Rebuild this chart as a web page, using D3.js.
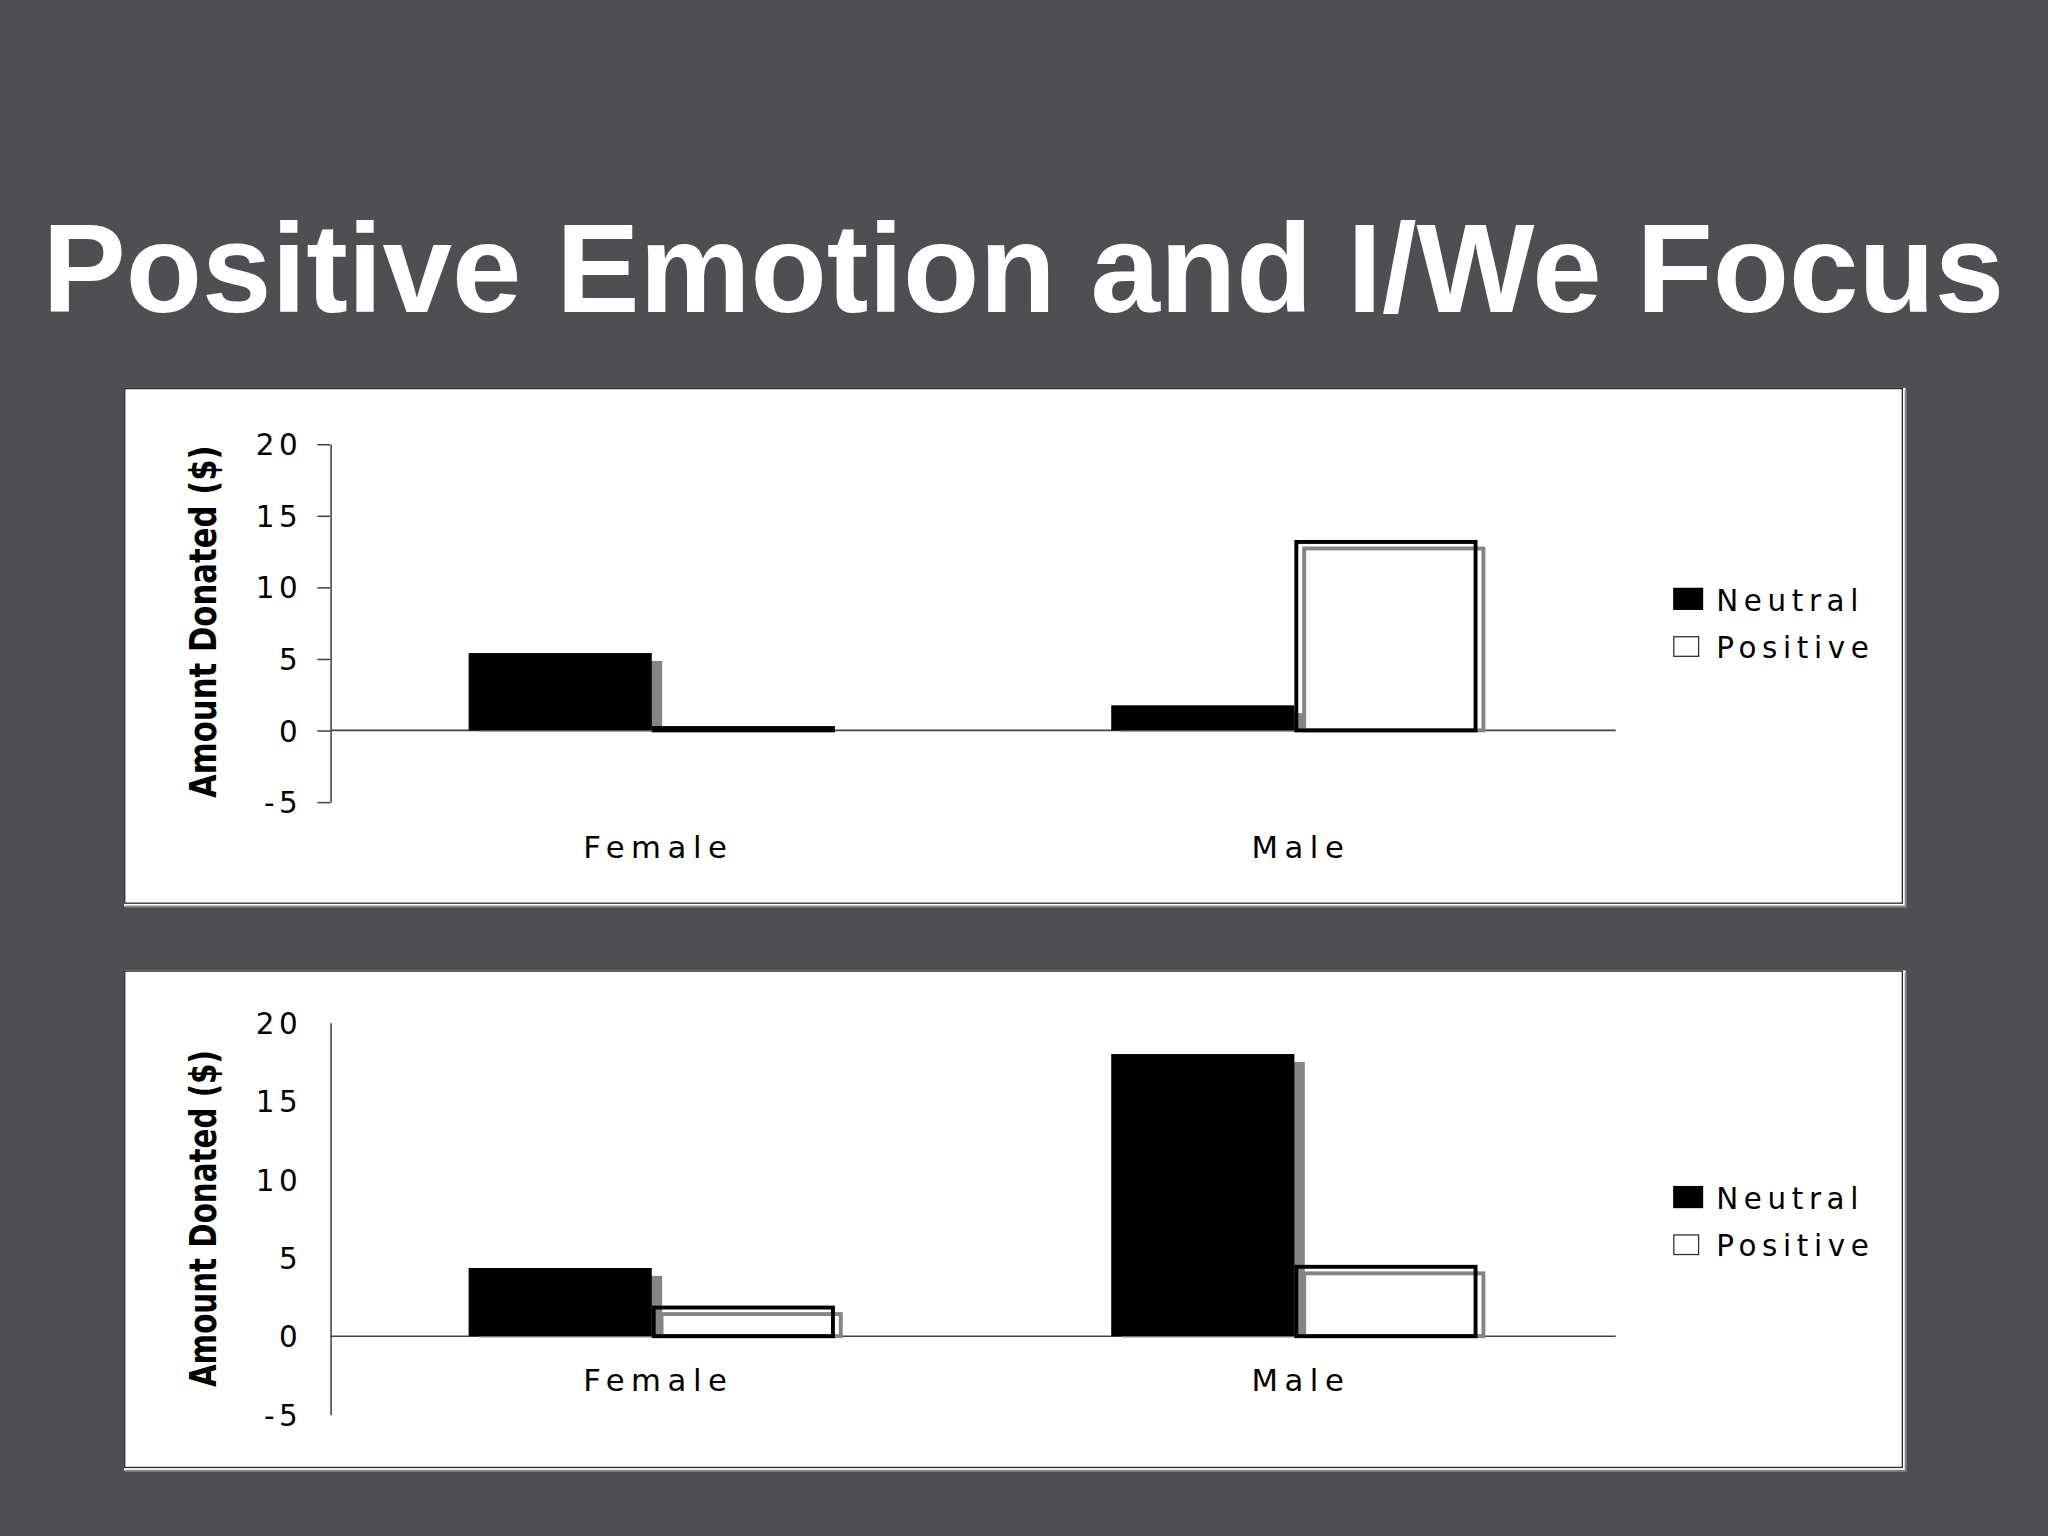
<!DOCTYPE html>
<html>
<head>
<meta charset="utf-8">
<script src="https://cdn.jsdelivr.net/npm/d3@7"></script>
<style>
  html, body { margin: 0; padding: 0; background: #4e4e53; }
  svg { display: block; }
</style>
</head>
<body>
<script>
// ---------- data ----------
const titleText = "Positive Emotion and I/We Focus";
const yAxisTitle = "Amount Donated ($)";
const categories = ["Female", "Male"];
const series = ["Neutral", "Positive"];
const yTickValues = [-5, 0, 5, 10, 15, 20];
const yTickLabels = ["-5", "0", "5", "10", "15", "20"];
const yDomain = [-5, 20];
// top chart
const topNeutral = [5.4, 1.75];
const topPositive = [0.3, 13.3];
// bottom chart
const bottomNeutral = [4.35, 18.0];
const bottomPositive = [1.95, 4.55];

// ---------- layout ----------
const W = 1568, H = 1176;
const svg = d3.select("body").append("svg")
  .attr("width", 2048).attr("height", 1536)
  .attr("viewBox", `0 0 ${W} ${H}`);

svg.append("rect").attr("width", W).attr("height", H).attr("fill", "#4e4e53");

svg.append("text")
  .attr("x", 783.5).attr("y", 239)
  .attr("text-anchor", "middle")
  .attr("font-family", "'Liberation Sans', Arial, sans-serif")
  .attr("font-weight", "bold")
  .attr("font-size", 96)
  .attr("textLength", 1502).attr("lengthAdjust", "spacingAndGlyphs")
  .attr("fill", "#ffffff")
  .text(titleText);

const FONT = "'DejaVu Sans', Verdana, sans-serif";

function drawChart(cfg, neutralVals, positiveVals) {
  const g = svg.append("g");
  // panel
  g.append("rect").attr("x", 95).attr("y", cfg.py0)
    .attr("width", 1364).attr("height", cfg.py1 - cfg.py0 + 2).attr("fill", "#ffffff");
  g.append("rect").attr("x", 95.5).attr("y", cfg.py0 + 0.5)
    .attr("width", 1361).attr("height", cfg.py1 - cfg.py0 - 1)
    .attr("fill", "none").attr("stroke", "#2a2a2a").attr("stroke-width", 1);
  g.append("path")
    .attr("d", `M1459,${cfg.py0 + 2} V${cfg.py1 + 2} H96`)
    .attr("fill", "none").attr("stroke", "#8a8a8a").attr("stroke-width", 1.5);

  const y = d3.scaleLinear().domain(yDomain).range([cfg.yb, cfg.yt]);
  const x0 = d3.scaleBand().domain(categories).range([253, 1237])
    .paddingInner(0.43).paddingOuter(0.215);
  const x1 = d3.scaleBand().domain(series).range([0, x0.bandwidth()]);

  // y axis
  const yAxis = d3.axisLeft(y).tickValues(yTickValues)
    .tickFormat((d, i) => yTickLabels[i])
    .tickSize(cfg.tickSize).tickSizeOuter(0).tickPadding(0);
  const ya = g.append("g").attr("transform", "translate(253,0)").call(yAxis);
  ya.select(".domain").attr("stroke", "#444").attr("stroke-width", 1.2);
  ya.selectAll(".tick line").attr("stroke", "#444").attr("stroke-width", 1.2);
  ya.selectAll(".tick text")
    .attr("x", -25 + 3.5).attr("dy", "0.36em")
    .attr("font-family", FONT).attr("font-size", 22.5)
    .attr("letter-spacing", 3.5).attr("fill", "#000");

  // zero line
  g.append("line")
    .attr("x1", 253).attr("x2", 1237)
    .attr("y1", y(0)).attr("y2", y(0))
    .attr("stroke", "#444").attr("stroke-width", 1.2);

  // category labels
  const xAxis = d3.axisBottom(x0).tickSize(0).tickPadding(0);
  const xa = g.append("g").attr("transform", `translate(0,${y(0)})`).call(xAxis);
  xa.select(".domain").remove();
  xa.selectAll(".tick text")
    .attr("y", cfg.catDy).attr("dy", 0).attr("dx", 5)
    .attr("font-family", FONT).attr("font-size", 23.5)
    .attr("letter-spacing", 5).attr("fill", "#000");

  const rows = categories.map((c, i) => ({
    cat: c,
    vals: [{ s: "Neutral", v: neutralVals[i] }, { s: "Positive", v: positiveVals[i] }]
  }));

  const groups = g.selectAll(".grp").data(rows).join("g")
    .attr("transform", d => `translate(${x0(d.cat)},0)`);

  // shadows
  groups.selectAll(".shadow").data(d => d.vals).join("rect")
    .attr("class", "shadow")
    .each(function (d) {
      const sel = d3.select(this);
      const bx = x1(d.s), bw = x1.bandwidth();
      const top = y(d.v), base = y(0);
      if (d.s === "Neutral") {
        sel.attr("x", bx + 8).attr("y", top + 6)
          .attr("width", bw).attr("height", Math.max(0, base - top - 5))
          .attr("fill", "#858585");
      } else {
        sel.attr("x", bx + 6 + 1.5).attr("y", top + 5 + 1.5)
          .attr("width", bw - 3).attr("height", Math.max(0, base - top - 5 - 1.5))
          .attr("fill", "none").attr("stroke", "#858585").attr("stroke-width", 3);
      }
    });

  // bars
  groups.selectAll(".bar").data(d => d.vals).join("rect")
    .attr("class", "bar")
    .each(function (d) {
      const sel = d3.select(this);
      const bx = x1(d.s), bw = x1.bandwidth();
      const top = y(d.v), base = y(0);
      if (d.s === "Neutral") {
        sel.attr("x", bx).attr("y", top)
          .attr("width", bw).attr("height", base - top)
          .attr("fill", "#000");
      } else {
        sel.attr("x", bx + 1.5).attr("y", top + 1.5)
          .attr("width", bw - 3).attr("height", Math.max(0, base - top - 1.5))
          .attr("fill", "none").attr("stroke", "#000").attr("stroke-width", 3);
      }
    });

  // y axis title
  g.append("text")
    .attr("transform", `translate(${cfg.titleX},${cfg.titleY}) rotate(-90)`)
    .attr("text-anchor", "middle")
    .attr("font-family", FONT).attr("font-weight", "bold")
    .attr("font-size", 29)
    .attr("textLength", cfg.titleLen).attr("lengthAdjust", "spacingAndGlyphs")
    .attr("fill", "#000")
    .text(yAxisTitle);

  // legend
  const lg = g.append("g").attr("transform", `translate(1281,${cfg.legY})`);
  const items = lg.selectAll("g").data(series).join("g")
    .attr("transform", (d, i) => `translate(0,${i * 36})`);
  items.append("rect")
    .attr("x", d => d === "Neutral" ? 0 : 0.5)
    .attr("y", d => d === "Neutral" ? 0 : 1.5)
    .attr("width", d => d === "Neutral" ? 23 : 19)
    .attr("height", d => d === "Neutral" ? 17 : 15)
    .attr("fill", d => d === "Neutral" ? "#000" : "#fff")
    .attr("stroke", d => d === "Neutral" ? "none" : "#333")
    .attr("stroke-width", 1);
  items.append("text")
    .attr("x", 33).attr("y", 18)
    .attr("font-family", FONT).attr("font-size", 22.5)
    .attr("letter-spacing", 4.3).attr("fill", "#000")
    .text(d => d);
}

drawChart({ py0: 297, py1: 692, yt: 340, yb: 614, tickSize: 10, catDy: 98,
            titleX: 165, titleY: 476, titleLen: 270, legY: 450 },
          topNeutral, topPositive);
drawChart({ py0: 743, py1: 1124, yt: 783, yb: 1083, tickSize: 0, catDy: 42,
            titleX: 165, titleY: 933, titleLen: 258, legY: 908 },
          bottomNeutral, bottomPositive);
</script>
</body>
</html>
